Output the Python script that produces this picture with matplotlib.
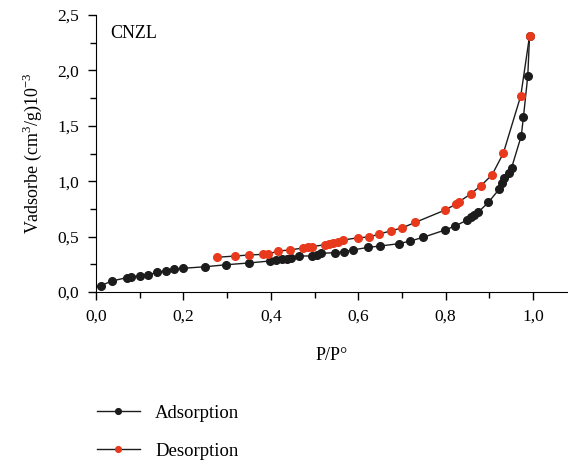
import matplotlib.pyplot as plt
from matplotlib.ticker import MultipleLocator, FuncFormatter

plt.rcParams['font.family'] = ['Liberation Serif', 'DejaVu Serif']
plt.rcParams['mathtext.fontset'] = 'custom'
plt.rcParams['mathtext.rm'] = 'Liberation Serif'

# adsorption branch
ads_x = [0.011, 0.036, 0.070, 0.080, 0.101, 0.120, 0.140, 0.160, 0.179, 0.200,
         0.250, 0.298, 0.350, 0.398, 0.413, 0.425, 0.436, 0.446, 0.465, 0.495,
         0.506, 0.514, 0.547, 0.568, 0.587, 0.623, 0.650, 0.693, 0.719, 0.749,
         0.799, 0.822, 0.848, 0.857, 0.865, 0.875, 0.898, 0.923, 0.928, 0.934,
         0.944, 0.951, 0.973, 0.978, 0.988, 0.992]
ads_y = [0.057, 0.099, 0.129, 0.138, 0.147, 0.156, 0.178, 0.192, 0.205, 0.214,
         0.228, 0.246, 0.262, 0.280, 0.292, 0.295, 0.301, 0.310, 0.325, 0.325,
         0.337, 0.349, 0.355, 0.364, 0.379, 0.403, 0.415, 0.436, 0.460, 0.494,
         0.560, 0.596, 0.647, 0.677, 0.695, 0.722, 0.810, 0.930, 0.981, 1.026,
         1.071, 1.122, 1.408, 1.577, 1.952, 2.311]

# desorption branch
des_x = [0.276, 0.319, 0.350, 0.383, 0.394, 0.417, 0.443, 0.473, 0.484, 0.494,
         0.524, 0.534, 0.543, 0.554, 0.566, 0.600, 0.625, 0.648, 0.674, 0.700,
         0.731, 0.799, 0.824, 0.831, 0.857, 0.880, 0.906, 0.932, 0.972, 0.992]
des_y = [0.313, 0.325, 0.334, 0.340, 0.343, 0.370, 0.379, 0.397, 0.406, 0.409,
         0.427, 0.430, 0.439, 0.451, 0.469, 0.490, 0.496, 0.523, 0.551, 0.578,
         0.629, 0.740, 0.794, 0.815, 0.884, 0.957, 1.056, 1.252, 1.772, 2.311]

black = '#1c1c1c'
red = '#e8391d'

fig = plt.figure(figsize=(5.68, 4.62), dpi=100)
ax = fig.add_axes([96 / 568, 1 - 292 / 462, 1 - 96 / 568, (292 - 15) / 462])

ax.plot(ads_x, ads_y, '-o', color=black, lw=1.0, ms=5.5, mfc=black, mec=black,
        label='Adsorption', clip_on=False)
ax.plot(des_x, des_y, '-o', color=black, lw=1.0, ms=5.5, mfc=red, mec=red,
        label='Desorption', clip_on=False)

ax.set_xlim(0, 1.08)
ax.set_ylim(0, 2.5)
ax.spines['top'].set_visible(False)
ax.spines['right'].set_visible(False)
ax.xaxis.set_major_locator(MultipleLocator(0.2))
ax.xaxis.set_minor_locator(MultipleLocator(0.1))
ax.yaxis.set_major_locator(MultipleLocator(0.5))
ax.yaxis.set_minor_locator(MultipleLocator(0.25))
comma = FuncFormatter(lambda v, p: '{:.1f}'.format(v).replace('.', ','))
ax.xaxis.set_major_formatter(comma)
ax.yaxis.set_major_formatter(comma)
ax.tick_params(which='major', direction='out', length=6, width=1, labelsize=12.5, pad=6)
ax.tick_params(which='minor', direction='out', length=4, width=1)

ax.set_xlabel('P/P°', fontsize=13, labelpad=16)
ax.set_ylabel('Vadsorbe (cm$^3$/g)10$^{-3}$', fontsize=13, labelpad=10)
ax.text(0.03, 0.965, 'CNZL', transform=ax.transAxes, fontsize=13, va='top')

fig.legend(loc='upper left', bbox_to_anchor=(80 / 568, 1 - 388 / 462), frameon=False,
           fontsize=13.5, handlelength=2.3, labelspacing=1.1, handletextpad=0.8,
           markerscale=0.75)

fig.savefig('out.png', dpi=100)
